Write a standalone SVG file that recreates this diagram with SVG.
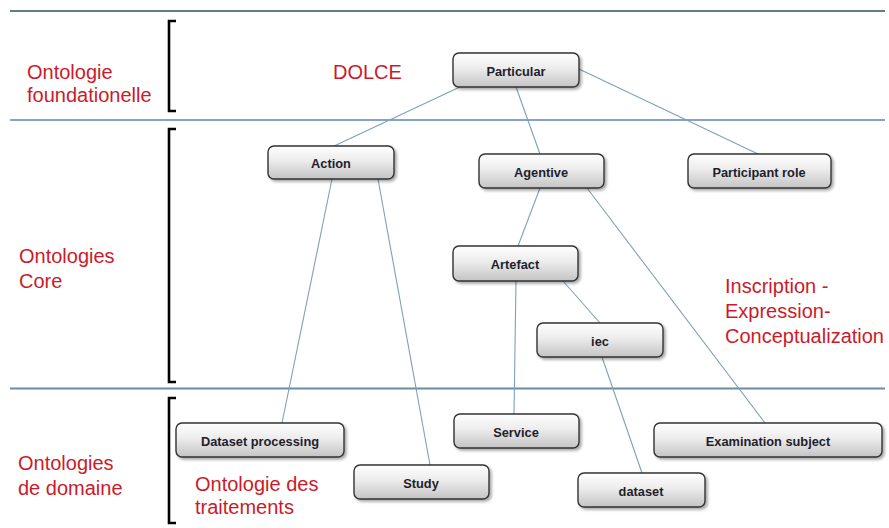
<svg xmlns="http://www.w3.org/2000/svg" width="889" height="528" viewBox="0 0 889 528">
  <defs>
    <linearGradient id="nodeFill" x1="0" y1="0" x2="0" y2="1">
      <stop offset="0" stop-color="#ffffff"/>
      <stop offset="0.45" stop-color="#ececec"/>
      <stop offset="1" stop-color="#c4c4c4"/>
    </linearGradient>
    <filter id="shadow" x="-10%" y="-20%" width="125%" height="160%">
      <feGaussianBlur in="SourceAlpha" stdDeviation="1.5"/>
      <feOffset dx="1.5" dy="2" result="b"/>
      <feComponentTransfer><feFuncA type="linear" slope="0.35"/></feComponentTransfer>
      <feMerge><feMergeNode/><feMergeNode in="SourceGraphic"/></feMerge>
    </filter>
  </defs>
  <style>
    .band { stroke: #5b84b4; stroke-width: 1.6; fill: none; }
    .bracket { stroke: #000; stroke-width: 2.6; fill: none; }
    .label { font-family: "Liberation Sans", Arial, sans-serif; font-size: 20px; fill: #cc1a2a; }
    .node rect { fill: url(#nodeFill); stroke: #333; stroke-width: 1.4; filter: url(#shadow); }
    .node text { font-family: "Liberation Sans", Arial, sans-serif; font-size: 12.8px; font-weight: bold; fill: #1e1e2c; text-anchor: middle; }
    .edge { stroke: #7fa0b8; stroke-width: 1.1; fill: none; }
  </style>

  <rect width="889" height="528" fill="#ffffff"/>

  <!-- layer separators -->
  <g id="bands">
    <line class="band" x1="10" y1="11" x2="885" y2="11" style="stroke:#5f7b8c;stroke-width:2.2"/>
    <line class="band" x1="10" y1="120" x2="885" y2="120"/>
    <line class="band" x1="10" y1="388.5" x2="885" y2="388.5" style="stroke:#6a8ca4;stroke-width:1.8"/>
  </g>

  <!-- brackets -->
  <g id="brackets">
    <path class="bracket" d="M176,21 H169 V111 H176"/>
    <path class="bracket" d="M176,129 H169 V382 H176"/>
    <path class="bracket" d="M176,398 H169 V523 H176"/>
  </g>

  <!-- layer labels -->
  <g id="labels">
    <text class="label" x="27" y="79">Ontologie</text>
    <text class="label" x="27" y="102">foundationelle</text>
    <text class="label" x="333" y="79">DOLCE</text>
    <text class="label" x="19" y="263">Ontologies</text>
    <text class="label" x="19" y="288">Core</text>
    <text class="label" x="725" y="293">Inscription -</text>
    <text class="label" x="725" y="318">Expression-</text>
    <text class="label" x="725" y="343">Conceptualization</text>
    <text class="label" x="18" y="470">Ontologies</text>
    <text class="label" x="18" y="495">de domaine</text>
    <text class="label" x="195" y="491">Ontologie des</text>
    <text class="label" x="195" y="514">traitements</text>
  </g>

  <!-- connectors -->
  <g id="connectors">
    <line class="edge" x1="462" y1="86" x2="332" y2="147"/>
    <line class="edge" x1="516" y1="87" x2="540" y2="154"/>
    <line class="edge" x1="579" y1="69" x2="758" y2="154"/>
    <line class="edge" x1="332" y1="179" x2="282" y2="423"/>
    <line class="edge" x1="378" y1="179" x2="430" y2="465"/>
    <line class="edge" x1="540" y1="188" x2="518" y2="246"/>
    <line class="edge" x1="587" y1="188" x2="765" y2="423"/>
    <line class="edge" x1="516" y1="281" x2="514" y2="414"/>
    <line class="edge" x1="563" y1="281" x2="600" y2="323"/>
    <line class="edge" x1="602" y1="357" x2="642" y2="473"/>
  </g>

  <!-- nodes -->
  <g id="particular" class="node"><rect x="453" y="53" width="126" height="34" rx="6"/><text x="516" y="75.5">Particular</text></g>
  <g id="action" class="node"><rect x="268" y="146" width="126" height="33" rx="6"/><text x="331" y="168">Action</text></g>
  <g id="agentive" class="node"><rect x="479" y="154" width="125" height="34" rx="6"/><text x="541" y="176.5">Agentive</text></g>
  <g id="participant-role" class="node"><rect x="688" y="154" width="143" height="34" rx="6"/><text x="759" y="176.5">Participant role</text></g>
  <g id="artefact" class="node"><rect x="453" y="246" width="125" height="35" rx="6"/><text x="515" y="269">Artefact</text></g>
  <g id="iec" class="node"><rect x="537" y="323" width="126" height="34" rx="6"/><text x="600" y="345.5">iec</text></g>
  <g id="dataset-processing" class="node"><rect x="176" y="423" width="168" height="34" rx="6"/><text x="260" y="445.5">Dataset processing</text></g>
  <g id="service" class="node"><rect x="454" y="414" width="125" height="34" rx="6"/><text x="516" y="436.5">Service</text></g>
  <g id="examination-subject" class="node"><rect x="654" y="423" width="228" height="34" rx="6"/><text x="768" y="445.5">Examination subject</text></g>
  <g id="study" class="node"><rect x="354" y="465" width="135" height="34" rx="6"/><text x="421" y="487.5">Study</text></g>
  <g id="dataset" class="node"><rect x="578" y="473" width="127" height="34" rx="6"/><text x="641" y="495.5">dataset</text></g>
</svg>
